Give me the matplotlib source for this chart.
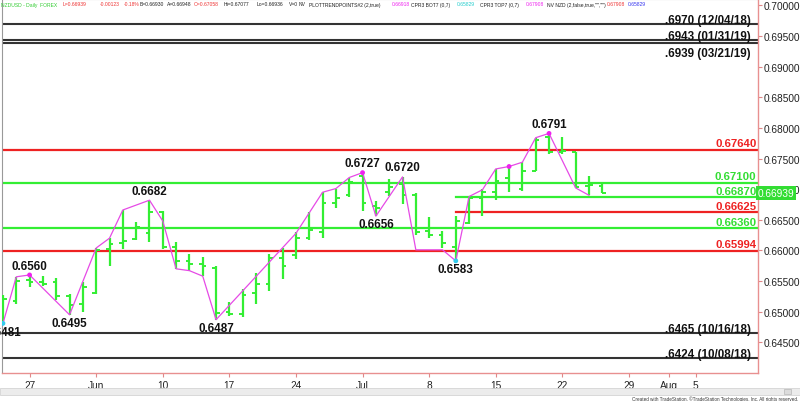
import matplotlib.pyplot as plt
import matplotlib.transforms as mtransforms
from matplotlib.patches import Rectangle
import numpy as np
import pandas as pd

plt.rcParams['font.family'] = ['Liberation Sans', 'DejaVu Sans']

# daily NZDUSD bars, 23 May - 25 Jul 2019
bar_days = pd.bdate_range('2019-05-23', '2019-07-25')
opens = [0.6505, 0.6518, 0.6552, 0.6548, 0.6548, 0.6525, 0.6512, 0.6530, 0.6602, 0.6612,
         0.6618, 0.6628, 0.6662, 0.6605, 0.6582, 0.6578, 0.6572, 0.6500, 0.6497, 0.6530,
         0.6545, 0.6588, 0.6592, 0.6620, 0.6630, 0.6678, 0.6690, 0.6722, 0.6673, 0.6695,
         0.6708, 0.6690, 0.6632, 0.6625, 0.6605, 0.6645, 0.6686, 0.6696, 0.6719, 0.6700,
         0.6730, 0.6785, 0.6760, 0.6760, 0.6705, 0.67058]
highs = [0.6527, 0.6557, 0.6560, 0.6559, 0.6555, 0.6529, 0.6548, 0.6604, 0.6620, 0.6666,
         0.6646, 0.6682, 0.6664, 0.6613, 0.6594, 0.6589, 0.6575, 0.6516, 0.6537, 0.6563,
         0.6595, 0.6604, 0.6630, 0.6662, 0.6695, 0.6700, 0.6719, 0.6727, 0.6680, 0.6716,
         0.6720, 0.6693, 0.6654, 0.6631, 0.6657, 0.6688, 0.6700, 0.6733, 0.6737, 0.6744,
         0.6784, 0.6790, 0.6785, 0.6760, 0.6722, 0.67077]
lows = [0.6481, 0.6512, 0.6540, 0.6542, 0.6519, 0.6495, 0.6499, 0.6529, 0.6575, 0.6602,
        0.6617, 0.6613, 0.6602, 0.6570, 0.6567, 0.6558, 0.6487, 0.6493, 0.6491, 0.6512,
        0.6534, 0.6554, 0.6586, 0.6617, 0.6621, 0.6670, 0.6688, 0.6664, 0.6656, 0.6689,
        0.6675, 0.6626, 0.6621, 0.6604, 0.6583, 0.6643, 0.6656, 0.6683, 0.6695, 0.6697,
        0.6730, 0.6757, 0.6757, 0.6702, 0.6690, 0.66936]
closes = [0.6520, 0.6550, 0.6548, 0.6546, 0.6525, 0.6511, 0.6540, 0.6600, 0.6610, 0.6615,
          0.6638, 0.6662, 0.6605, 0.6582, 0.6578, 0.6575, 0.6498, 0.6497, 0.6528, 0.6545,
          0.6588, 0.6575, 0.6620, 0.6633, 0.6678, 0.6685, 0.6712, 0.6678, 0.6670, 0.6703,
          0.6690, 0.6630, 0.6625, 0.6612, 0.6648, 0.6685, 0.6695, 0.6713, 0.6710, 0.6729,
          0.6780, 0.6760, 0.6762, 0.6703, 0.6706, 0.66939]

# trend-point zigzag
zig_days = ['2019-05-23', '2019-05-24', '2019-05-27', '2019-05-30', '2019-06-03', '2019-06-04',
            '2019-06-05', '2019-06-07', '2019-06-10', '2019-06-11', '2019-06-12', '2019-06-13',
            '2019-06-14', '2019-06-24', '2019-06-26', '2019-06-27', '2019-06-28', '2019-07-01',
            '2019-07-02', '2019-07-04', '2019-07-05', '2019-07-09', '2019-07-10', '2019-07-11',
            '2019-07-12', '2019-07-15', '2019-07-16', '2019-07-17', '2019-07-18', '2019-07-19',
            '2019-07-23', '2019-07-24']
zig_prices = [0.6481, 0.6557, 0.6560, 0.6495, 0.6604, 0.6620, 0.6666, 0.6682, 0.6648, 0.6570,
              0.6567, 0.6558, 0.6487, 0.6628, 0.6695, 0.6701, 0.6719, 0.6727, 0.6656, 0.6720,
              0.6601, 0.6601, 0.6583, 0.6688, 0.6699, 0.6733, 0.6737, 0.6744, 0.6784, 0.6791,
              0.6702, 0.6690]

dot_days = ['2019-05-23', '2019-05-27', '2019-07-01', '2019-07-10', '2019-07-16', '2019-07-19']
dot_prices = [0.6481, 0.6560, 0.6727, 0.6583, 0.6737, 0.6791]
dot_colors = ['#33ccee', '#ee22ee', '#ee22ee', '#33ccee', '#ee22ee', '#ee22ee']

swing_days = ['2019-05-23', '2019-05-27', '2019-05-30', '2019-06-07', '2019-06-14',
              '2019-07-01', '2019-07-02', '2019-07-04', '2019-07-10', '2019-07-19']
swing_prices = [0.6481, 0.6560, 0.6495, 0.6682, 0.6487, 0.6727, 0.6656, 0.6720, 0.6583, 0.6791]
swing_above = [False, True, False, True, False, True, False, True, False, True]

# support / resistance levels
level_values = [0.6764, 0.6710, 0.6687, 0.66625, 0.6636, 0.65994]
level_colors = ['#ee2222', '#33ee33', '#33ee33', '#ee2222', '#33ee33', '#ee2222']
level_text_colors = ['#ee2222', '#33dd33', '#33dd33', '#ee2222', '#33dd33', '#ee2222']
level_starts = [None, None, '2019-07-10', '2019-07-10', None, None]

hist_values = [0.6970, 0.6943, 0.6939, 0.6465, 0.6424]
hist_labels = ['.6970 (12/04/18)', '.6943 (01/31/19)', '.6939 (03/21/19)',
               '.6465 (10/16/18)', '.6424 (10/08/18)']
hist_below = [False, False, True, False, False]

last_price = 0.66939

tick_days = ['2019-05-27', '2019-06-03', '2019-06-10', '2019-06-17', '2019-06-24', '2019-07-01',
             '2019-07-08', '2019-07-15', '2019-07-22', '2019-07-29', '2019-08-01', '2019-08-05']
tick_labels = ['27', 'Jun', '10', '17', '24', 'Jul', '8', '15', '22', '29', 'Aug', '5']

legend_parts = [(1, 'NZDUSD - Daily  FOREX', '#33cc33'), (63, 'L=0.66939', '#ee3333'),
                (100, '-0.00123', '#ee3333'), (124, '-0.18%', '#ee3333'),
                (140, 'B=0.66930', '#222222'), (167, 'A=0.66948', '#222222'),
                (194, 'O=0.67058', '#ee3333'), (224, 'Hi=0.67077', '#222222'),
                (257, 'Lo=0.66936', '#222222'), (289, 'V=0', '#222222'), (299, 'NV', '#222222'),
                (309, 'PLOTTRENDPOINTS#2 (2,true)', '#222222'), (392, '0.66918', '#ee22ee'),
                (411, 'CPR3 BOT7 (0,7)', '#222222'), (457, '0.65829', '#22cccc'),
                (480, 'CPR3 TOP7 (0,7)', '#222222'), (526, '0.67908', '#ee22ee'),
                (547, 'NV NZD (2,false,true,"","")', '#222222'), (607, '0.67908', '#ee3333'),
                (628, '0.65829', '#3333ee')]

# x positions = business-day index from the first bar
calendar = pd.bdate_range('2019-05-23', '2019-08-30')
def xpos(days):
    return np.array([calendar.get_loc(pd.Timestamp(d)) for d in days])

W, H = 800, 402
fig = plt.figure(figsize=(W / 100, H / 100), dpi=100)
ax = fig.add_axes([2 / W, 28 / H, 756 / W, 374 / H])
ax.set_xlim(-0.072, 56.69)
ax.set_ylim(0.64, 0.64 + 374 / 6128)

bx = xpos(bar_days)
green = '#33ee33'
ax.vlines(bx, lows, highs, color=green, lw=1.6, zorder=3)
ax.hlines(opens, bx - 0.28, bx, color=green, lw=1.4, zorder=3)
ax.hlines(closes, bx, bx + 0.28, color=green, lw=1.4, zorder=3)

ax.plot(xpos(zig_days), zig_prices, color='#e64ae6', lw=0.9, zorder=4)
ax.scatter(xpos(dot_days), dot_prices, s=12, c=dot_colors, zorder=5, linewidths=0)

for d, p, up in zip(swing_days, swing_prices, swing_above):
    ax.annotate(f'{p:.4f}', (xpos([d])[0], p), xytext=(0, 6.8 if up else -6.0),
                textcoords='offset points', ha='center', va='center', fontsize=8.4,
                fontweight='bold', color='#111111', annotation_clip=False, zorder=6)

trans = mtransforms.blended_transform_factory(ax.transAxes, ax.transData)
for v, c, tc, s in zip(level_values, level_colors, level_text_colors, level_starts):
    x0 = 0 if s is None else ax.transAxes.inverted().transform(
        ax.transData.transform((xpos([s])[0], v)))[0]
    ax.plot([x0, 1], [v, v], color=c, lw=1.6, transform=trans, zorder=2)
    ax.annotate(f'{v:.5f}', (1, v), xycoords=trans, xytext=(-1, 2.6),
                textcoords='offset points', ha='right', va='baseline', fontsize=8.2,
                fontweight='bold', color=tc, zorder=6)

for v, lab, below in zip(hist_values, hist_labels, hist_below):
    ax.axhline(v, color='#333333', lw=1.5, zorder=2)
    ax.annotate(lab, (1, v), xycoords=trans, xytext=(-5, -3 if below else 0.8),
                textcoords='offset points', ha='right', va='top' if below else 'baseline',
                fontsize=8.4, fontweight='bold', color='#111111', zorder=6)

# axes styling
ax.yaxis.tick_right()
ax.set_yticks(np.arange(0.645, 0.7001, 0.005))
ax.set_yticklabels([f'{t:.5f}' for t in np.arange(0.645, 0.7001, 0.005)])
ax.tick_params(axis='y', length=3, width=0.8, color='#e08888', labelsize=7.3, pad=1,
               labelcolor='#222222')
ax.set_xticks(xpos(tick_days))
ax.set_xticklabels(tick_labels)
ax.tick_params(axis='x', length=3, width=0.8, color='#e08888', labelsize=7.3, pad=2,
               labelcolor='#222222')
for side in ['right', 'bottom']:
    ax.spines[side].set_color('#e89090')
    ax.spines[side].set_linewidth(1.0)
ax.spines['left'].set_color('#999999')
ax.spines['top'].set_color('#aaaaaa')

ax.text(1.0, last_price, f'{last_price:.5f}', transform=trans, ha='left', va='center',
        color='white', fontsize=7.3, zorder=10,
        bbox=dict(boxstyle='square,pad=0.18', fc='#33dd33', ec='none'))

# header legend line
for px, txt, col in legend_parts:
    fig.text(px / W, 1 - 5 / H, txt, color=col, fontsize=3.6, ha='left', va='center')

# scroll bar + footer
fig.patches.append(Rectangle((0, 1 - 396 / H), 1, 7 / H, transform=fig.transFigure,
                             fc='#ececec', ec='#d4d4d4', lw=0.6))
fig.patches.append(Rectangle((784 / W, 1 - 395 / H), 7 / W, 5 / H, transform=fig.transFigure,
                             fc='#dcdcdc', ec='#b8b8b8', lw=0.5))
fig.text(798 / W, 1 - 399 / H,
         'Created with TradeStation. \u00a9TradeStation Technologies, Inc. All rights reserved.',
         fontsize=3.3, ha='right', va='center', color='#333333')

fig.savefig('out.png', dpi=100)
